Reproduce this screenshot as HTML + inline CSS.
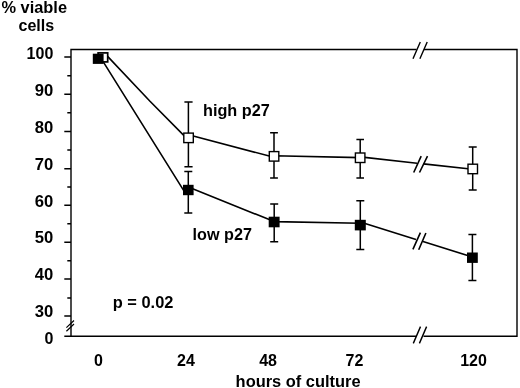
<!DOCTYPE html>
<html><head><meta charset="utf-8"><title>chart</title>
<style>
html,body{margin:0;padding:0;background:#fff;}
svg{display:block;}
text{font-family:"Liberation Sans",Arial,Helvetica,sans-serif;font-weight:bold;font-size:16px;fill:#000;}
</style></head><body>
<svg width="520" height="388" viewBox="0 0 520 388">
<rect width="520" height="388" fill="#fff"/>
<g stroke="#000" stroke-width="1.4" fill="none" stroke-linecap="butt">
<!-- frame -->
<path d="M71 336.3V49.5H416.5M424 49.5H517V336.3H423.5M416.5 336.3H64.3"/>
<!-- axis breaks -->
<path d="M413 58.8L420.3 42M419.9 58.8L427.2 42"/>
<path d="M413.3 343.4L420.5 326.6M419.4 343.4L426.6 326.6"/>
<path d="M66.4 327.6L74 320.5M66.4 331.2L74 324" stroke-width="1.2"/>
<!-- y ticks major -->
<path d="M64.3 57H71M64.3 94.2H71M64.3 131.5H71M64.3 168.7H71M64.3 205.2H71M64.3 242.2H71M64.3 279H71M64.3 316H71"/>
<!-- y ticks minor -->
<path d="M67.3 75.7H71M67.3 112.8H71M67.3 150H71M67.3 187H71M67.3 223.8H71M67.3 260.7H71M67.3 298H71"/>
</g>
<g stroke="#000" stroke-width="1.6" fill="none">
<!-- high line -->
<path d="M105 53.6L150 101.3L184.5 136.1M188.5 134.75L274 157.3M274 155.8L360.2 157.6M360.2 156.9L417 163.2M423.5 163.9L472.7 169.3"/>
<path d="M413.7 172.5L421.2 156.2M419.5 172.5L427.5 156.2"/>
<!-- low line -->
<path d="M100 56.6L183.6 190.3M188.3 187.1L274.2 221.6M274.2 221.6L360.3 223.3M360.3 222L416 239.4M423 241.6L472.4 257"/>
<path d="M412.9 249.4L420.4 232.6M418.7 249.8L425.9 233"/>
</g>
<g stroke="#000" stroke-width="1.5" fill="none">
<!-- error bars high -->
<path d="M188.4 102V166.8M184.4 102H192.6M184.4 166.8H192.6"/>
<path d="M274 132.7V177.9M270.1 132.7H277.9M270.1 177.9H277.9"/>
<path d="M360.2 139.4V177.9M356.4 139.4H364M356.4 177.9H364"/>
<path d="M472.7 147V190M468.7 147H476.7M468.7 190H476.7"/>
<!-- error bars low -->
<path d="M188.3 171.6V213.1M184.3 171.6H192.3M184.3 213.1H192.3"/>
<path d="M274.2 203.9V241.8M270.2 203.9H278.2M270.2 241.8H278.2"/>
<path d="M360.3 200.8V249.5M356.3 200.8H364.3M356.3 249.5H364.3"/>
<path d="M472.4 234.4V280.6M468.4 234.4H476.4M468.4 280.6H476.4"/>
</g>
<!-- markers -->
<g stroke="#000" stroke-width="1.4" fill="#fff">
<rect x="98.1" y="52.9" width="9.6" height="9" stroke-width="1.7"/>
<rect x="183.8" y="133.1" width="9.5" height="9.5"/>
<rect x="269.3" y="151.6" width="9.5" height="9.5"/>
<rect x="355.4" y="153" width="9.5" height="9.5"/>
<rect x="468" y="164.2" width="9.5" height="9.5"/>
</g>
<g fill="#000">
<rect x="92.8" y="53.7" width="10.8" height="10.2"/>
<rect x="183" y="184.8" width="10.6" height="10.4"/>
<rect x="268.7" y="216.7" width="10.9" height="10.6"/>
<rect x="354.8" y="219.8" width="11" height="10.6"/>
<rect x="467" y="252.5" width="10.8" height="10.4"/>
</g>
<!-- text -->
<text x="1.5" y="13.1" textLength="65.5" lengthAdjust="spacingAndGlyphs">% viable</text>
<text x="18.5" y="30.5" textLength="35.7" lengthAdjust="spacingAndGlyphs">cells</text>
<g text-anchor="end">
<text x="53.3" y="59.3">100</text>
<text x="53.3" y="96.3" textLength="18.5" lengthAdjust="spacingAndGlyphs">90</text>
<text x="53.3" y="133" textLength="18.5" lengthAdjust="spacingAndGlyphs">80</text>
<text x="53.3" y="170.2" textLength="18.5" lengthAdjust="spacingAndGlyphs">70</text>
<text x="53.3" y="206.7" textLength="18.5" lengthAdjust="spacingAndGlyphs">60</text>
<text x="53.3" y="243" textLength="18.5" lengthAdjust="spacingAndGlyphs">50</text>
<text x="53.3" y="280.3" textLength="18.5" lengthAdjust="spacingAndGlyphs">40</text>
<text x="53.3" y="317" textLength="18.5" lengthAdjust="spacingAndGlyphs">30</text>
<text x="53.3" y="343.6">0</text>
</g>
<g text-anchor="middle">
<text x="98.4" y="365.8">0</text>
<text x="186" y="365.8">24</text>
<text x="268.1" y="365.8">48</text>
<text x="354.4" y="365.8">72</text>
<text x="473.5" y="365.8">120</text>
</g>
<text x="235.6" y="386.8" textLength="125" lengthAdjust="spacingAndGlyphs">hours of culture</text>
<text x="203" y="115.6" textLength="66.8" lengthAdjust="spacingAndGlyphs">high p27</text>
<text x="192.6" y="240.2" textLength="59.3" lengthAdjust="spacingAndGlyphs">low p27</text>
<text x="112.8" y="308.1" textLength="60.6" lengthAdjust="spacingAndGlyphs">p = 0.02</text>
</svg>
</body></html>
